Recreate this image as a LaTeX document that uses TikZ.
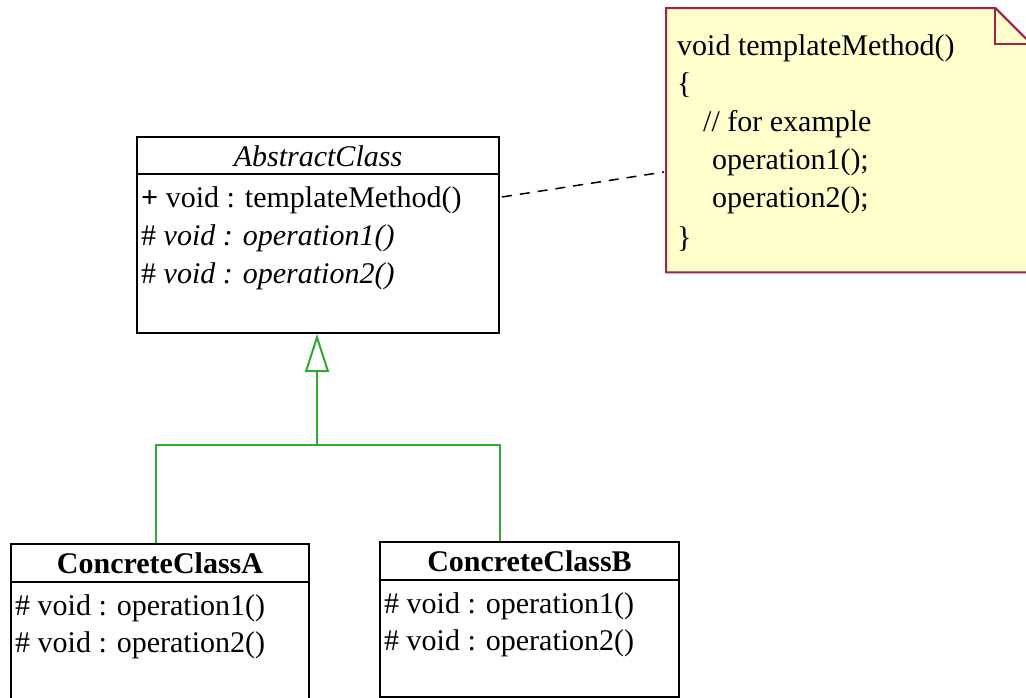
\documentclass[tikz,border=0pt]{standalone}
\usepackage{fontspec}
\setmainfont{Liberation Serif}
\usetikzlibrary{arrows.meta, positioning, calc}
\definecolor{umlgreen}{HTML}{2EAA2E}
\definecolor{notered}{HTML}{A3214A}
\definecolor{notefill}{HTML}{FFFFCC}

\begin{document}
\begin{tikzpicture}[
    x=1pt, y=-1pt,
    font=\fontsize{30}{38}\selectfont,
    classbox/.style={rectangle, draw=black, line width=2pt, fill=white, anchor=north west, inner sep=0pt},
    classname/.style={anchor=base, inner sep=0pt},
    member/.style={anchor=base west, inner sep=0pt},
    notebox/.style={rectangle, anchor=north west, inner sep=0pt, minimum width=365pt, minimum height=264pt},
    notetext/.style={anchor=base west, inner sep=0pt},
    divider/.style={line width=2pt},
    inherit/.style={draw=umlgreen, line width=2pt},
    generalize/.style={inherit, -{Triangle[open, length=38pt, width=24pt, line width=2pt]}},
    link/.style={dash pattern=on 10pt off 8pt, line width=1.5pt}
]
\path[use as bounding box, fill=white] (0,0) rectangle (1026,697);

% abstract class
\node[classbox, minimum width=362pt, minimum height=196pt] (abs) at (136,136) {};
\draw[divider] ($(abs.north west)+(0,38)$) -- ($(abs.north east)+(0,38)$);
\node[classname] (absname) at ($(abs.north)+(0,30)$) {\itshape AbstractClass};
\node[member] (absop0) at ($(abs.north west)+(5,71)$) {\textbf{+} void : templateMethod()};
\node[member] (absop1) at ($(abs.north west)+(5,109)$) {\# \textit{void : operation1()}};
\node[member] (absop2) at ($(abs.north west)+(5,147)$) {\# \textit{void : operation2()}};

% concrete classes
\node[classbox, minimum width=298pt, minimum height=155pt] (concA) at (10,543) {};
\draw[divider] ($(concA.north west)+(0,39)$) -- ($(concA.north east)+(0,39)$);
\node[classname] (concAname) at ($(concA.north)+(0,30)$) {\bfseries ConcreteClassA};
\node[member] (concAop1) at ($(concA.north west)+(5,72)$) {\# void : operation1()};
\node[member] (concAop2) at ($(concA.north west)+(5,109)$) {\# void : operation2()};

\node[classbox, minimum width=299pt, minimum height=155pt] (concB) at (379,541) {};
\draw[divider] ($(concB.north west)+(0,39)$) -- ($(concB.north east)+(0,39)$);
\node[classname] (concBname) at ($(concB.north)+(0,30)$) {\bfseries ConcreteClassB};
\node[member] (concBop1) at ($(concB.north west)+(5,72)$) {\# void : operation1()};
\node[member] (concBop2) at ($(concB.north west)+(5,109)$) {\# void : operation2()};

% note
\node[notebox] (note) at (666,8) {};
\path[draw=notered, fill=notefill, line width=2pt] (note.south west) -- (note.north west)
    -- ($(note.north east)+(-36,0)$) -- ($(note.north east)+(0,36)$) -- (note.south east) -- cycle;
\draw[draw=notered, line width=2pt] ($(note.north east)+(-36,0)$) |- ($(note.north east)+(0,36)$);
\node[notetext] (note1) at ($(note.north west)+(11,47)$) {void templateMethod()};
\node[notetext] (note2) at ($(note.north west)+(11,85)$) {\{};
\node[notetext] (note3) at ($(note.north west)+(37,123)$) {// for example};
\node[notetext] (note4) at ($(note.north west)+(46,161)$) {operation1();};
\node[notetext] (note5) at ($(note.north west)+(46,199)$) {operation2();};
\node[notetext] (note6) at ($(note.north west)+(11,239)$) {\}};

% connectors
\draw[link] ($(abs.north east)+(2,61)$) -- ($(note.north west)+(-2,164)$);
\coordinate (fork) at ($(abs.south)+(-1,111)$);
\draw[inherit] ($(concA.north west)+(146,0)$) |- (fork) -| ($(concB.north west)+(121,0)$);
\draw[generalize] (fork) -- (fork |- abs.south);
\end{tikzpicture}
\end{document}
